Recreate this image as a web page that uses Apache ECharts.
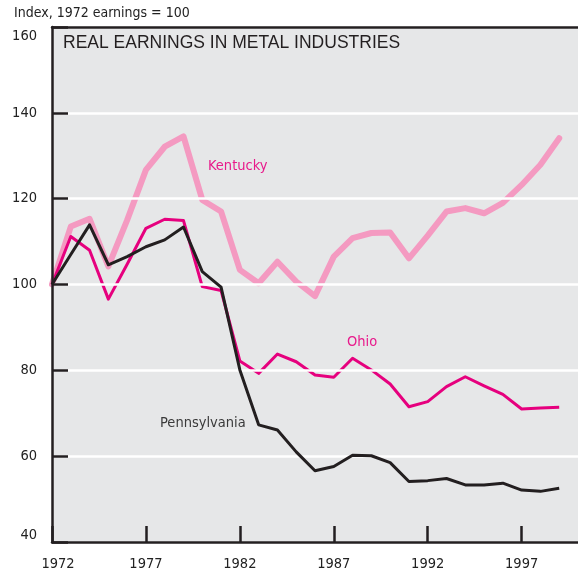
<!DOCTYPE html>
<html>
<head>
<meta charset="utf-8">
<script src="https://cdn.jsdelivr.net/npm/echarts@6/dist/echarts.min.js"></script>
<style>
  html, body { margin: 0; padding: 0; background: #ffffff; }
  #chart { width: 578px; height: 574px; }
</style>
</head>
<body>
<div id="chart"></div>
<script>
// Real earnings index (1972 = 100), metal industries, 1972-1999
const years = [1972,1973,1974,1975,1976,1977,1978,1979,1980,1981,1982,1983,1984,1985,
               1986,1987,1988,1989,1990,1991,1992,1993,1994,1995,1996,1997,1998,1999];
const kentucky = [100,113.5,115.3,104.2,115,126.7,132.1,134.5,119.7,117,103.4,100.3,105.3,100.7,
                  97.3,106.5,110.8,112,112.1,106.1,111.4,117,117.8,116.6,119,123.2,127.9,134.1];
const ohio = [100,111.2,108,96.6,104.7,113.1,115.2,114.9,99.5,98.6,82.2,79.3,83.8,82,
              78.9,78.4,82.8,80.1,76.8,71.5,72.7,76.2,78.5,76.4,74.4,71,71.2,71.4];
const pennsylvania = [100,107,113.9,104.6,106.5,108.8,110.4,113.4,103,99.4,80.1,67.3,66.1,61,
                      56.6,57.6,60.2,60.1,58.5,54.1,54.3,54.8,53.3,53.3,53.7,52.1,51.8,52.5];
const yearTicks = [1972,1977,1982,1987,1992,1997];
const yTicks = [40,60,80,100,120,140,160];

const pair = (vals) => years.map((y, i) => [y, vals[i]]);

const ink = '#231f20';
const condensed = '"Liberation Sans Narrow", "DejaVu Sans Condensed", "Roboto Condensed", sans-serif';

const chart = echarts.init(document.getElementById('chart'), null, { renderer: 'canvas' });

chart.setOption({
  animation: false,
  backgroundColor: '#ffffff',
  grid: {
    left: 52, top: 27, width: 528.6, height: 515,
    show: true, backgroundColor: '#e6e7e8', borderWidth: 0
  },
  xAxis: [{
    type: 'value', min: yearTicks[0], max: 2000, interval: 5,
    axisLine: { show: true, onZero: false, lineStyle: { color: ink, width: 2.5 } },
    axisTick: { show: true, inside: true, length: 16, lineStyle: { color: ink, width: 2.5 } },
    axisLabel: {
      showMaxLabel: false, margin: 15,
      color: '#222', fontFamily: condensed, fontSize: 14.5,
      // first year label sits a little right of its tick
      formatter: v => (v === yearTicks[0] ? '{first|' + v + '}' : String(v)),
      rich: { first: { padding: [0, 0, 0, 12], fontFamily: condensed, fontSize: 14.5, color: '#222' } }
    },
    splitLine: { show: false },
    z: 5
  }, {
    type: 'value', position: 'top', min: yearTicks[0], max: 2000,
    axisLine: { show: true, onZero: false, lineStyle: { color: ink, width: 2.5 } },
    axisTick: { show: false }, axisLabel: { show: false }, splitLine: { show: false },
    z: 5
  }],
  yAxis: {
    type: 'value', min: yTicks[0], max: yTicks[yTicks.length - 1], interval: 20,
    axisLine: { show: true, onZero: false, lineStyle: { color: ink, width: 2.5 } },
    axisTick: { show: true, inside: true, length: 16, lineStyle: { color: ink, width: 2.5 } },
    axisLabel: {
      margin: 15, color: '#222', fontFamily: condensed, fontSize: 14.5,
      // end labels are nudged inward so they stay beside the frame
      formatter: v => v === yTicks[yTicks.length - 1] ? '{top|' + v + '}'
                    : v === yTicks[0] ? '{bottom|' + v + '}' : String(v),
      rich: {
        top: { padding: [18, 0, 0, 0], fontFamily: condensed, fontSize: 14.5, color: '#222' },
        bottom: { padding: [0, 0, 14, 0], fontFamily: condensed, fontSize: 14.5, color: '#222' }
      }
    },
    splitLine: { show: true, lineStyle: { color: '#ffffff', width: 2.5 } },
    z: 4
  },
  series: [
    {
      name: 'Kentucky', type: 'line', data: pair(kentucky), symbol: 'none',
      lineStyle: { color: '#f49ac1', width: 6, join: 'round', cap: 'round' }, z: 2
    },
    {
      name: 'Ohio', type: 'line', data: pair(ohio), symbol: 'none',
      lineStyle: { color: '#e6007e', width: 3, join: 'round' }, z: 3
    },
    {
      name: 'Pennsylvania', type: 'line', data: pair(pennsylvania), symbol: 'none',
      lineStyle: { color: ink, width: 3, join: 'round' }, z: 4
    }
  ],
  graphic: [
    { type: 'text', left: 14, top: 6, z: 10,
      style: { text: 'Index, 1972 earnings = 100', fill: '#222', font: '14px ' + condensed } },
    { type: 'text', left: 63, top: 34, z: 10,
      style: { text: 'REAL EARNINGS IN METAL INDUSTRIES', fill: ink, font: '17.5px "Liberation Sans", Arial, sans-serif' } },
    { type: 'text', left: 208, top: 159, z: 10,
      style: { text: 'Kentucky', fill: '#e8198b', font: '14.5px ' + condensed } },
    { type: 'text', left: 347, top: 335, z: 10,
      style: { text: 'Ohio', fill: '#e8198b', font: '14.5px ' + condensed } },
    { type: 'text', left: 160, top: 416, z: 10,
      style: { text: 'Pennsylvania', fill: '#3a3a3a', font: '14.5px ' + condensed } }
  ]
});
</script>
</body>
</html>
